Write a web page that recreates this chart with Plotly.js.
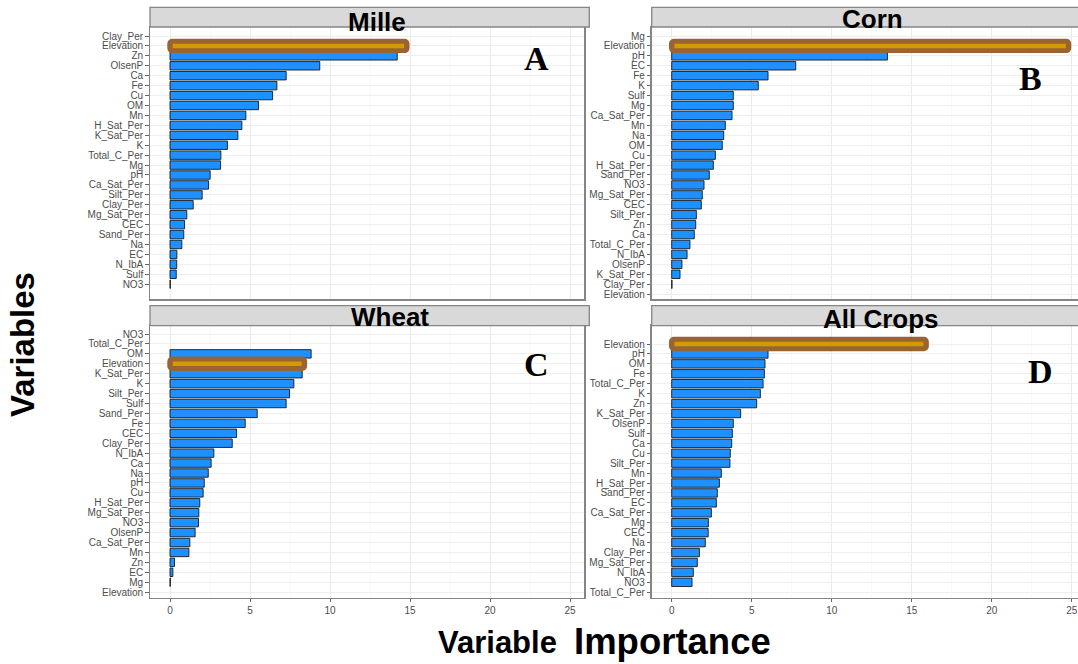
<!DOCTYPE html>
<html>
<head>
<meta charset="utf-8">
<script src="https://cdn.plot.ly/plotly-3.0.1.min.js"></script>
<style>html,body{margin:0;padding:0;background:#fff;}#chart{width:1078px;height:664px;}</style>
</head>
<body>
<div id="chart"></div>
<script>
// ---------- DATA ----------
const panelTitles = ['Mille', 'Corn', 'Wheat', 'All Crops'];
const panelLetters = ['A', 'B', 'C', 'D'];

const labelsA = ['Clay_Per','Elevation','Zn','OlsenP','Ca','Fe','Cu','OM','Mn','H_Sat_Per','K_Sat_Per','K','Total_C_Per','Mg','pH','Ca_Sat_Per','Silt_Per','Clay_Per','Mg_Sat_Per','CEC','Sand_Per','Na','EC','N_IbA','Sulf','NO3'];
const valuesA = [null,null,14.2,9.36,7.26,6.68,6.41,5.53,4.74,4.49,4.24,3.59,3.18,3.16,2.51,2.41,2.01,1.45,1.05,0.91,0.86,0.74,0.43,0.42,0.39,0.02];

const labelsB = ['Mg','Elevation','pH','EC','Fe','K','Sulf','Mg','Ca_Sat_Per','Mn','Na','OM','Cu','H_Sat_Per','Sand_Per','NO3','Mg_Sat_Per','CEC','Silt_Per','Zn','Ca','Total_C_Per','N_IbA','OlsenP','K_Sat_Per','Clay_Per','Elevation'];
const valuesB = [null,null,13.48,7.75,6.02,5.41,3.85,3.85,3.77,3.35,3.25,3.16,2.73,2.6,2.35,2.02,1.91,1.85,1.54,1.5,1.41,1.14,0.96,0.64,0.52,0.02,null];

const labelsC = ['NO3','Total_C_Per','OM','Elevation','K_Sat_Per','K','Silt_Per','Sulf','Sand_Per','Fe','CEC','Clay_Per','N_IbA','Ca','Na','pH','Cu','H_Sat_Per','Mg_Sat_Per','NO3','OlsenP','Ca_Sat_Per','Mn','Zn','EC','Mg','Elevation'];
const valuesC = [null,null,8.82,null,8.26,7.74,7.47,7.26,5.45,4.7,4.16,3.89,2.74,2.57,2.39,2.14,2.07,1.86,1.8,1.78,1.57,1.24,1.18,0.28,0.18,0.02,null];

const labelsD = ['Elevation','pH','OM','Fe','Total_C_Per','K','Zn','K_Sat_Per','OlsenP','Sulf','Ca','Cu','Silt_Per','Mn','H_Sat_Per','Sand_Per','EC','Ca_Sat_Per','Mg','CEC','Na','Clay_Per','Mg_Sat_Per','N_IbA','NO3','Total_C_Per'];
const valuesD = [null,6.02,5.83,5.79,5.71,5.54,5.31,4.31,3.85,3.79,3.75,3.66,3.64,3.1,2.98,2.85,2.79,2.48,2.29,2.28,2.1,1.73,1.6,1.35,1.27,null];

const highlightVariable = 'Elevation';
const highlightValues = [14.8, 24.8, 8.4, 15.9];

const xTickVals = [0, 5, 10, 15, 20, 25];
const xTitleWords = ['Variable', 'Importance'];
const yTitle = 'Variables';

// ---------- LAYOUT HELPERS ----------
const W = 1078, H = 664;
const fx = v => v / W;
const fy = v => 1 - v / H;
const PAD = 0.17; // half-thickness of the highlight frame, in x units

const allLabels = [labelsA, labelsB, labelsC, labelsD];
const allValues = [valuesA, valuesB, valuesC, valuesD];

const geo = [
  {x0:150,   x1:584.3, y0:27,    y1:299.3, yr:[26.52,-0.906], xr:[-1.25,25.89], s0:7.3,   bottom:false},
  {x0:651.7, x1:1078,  y0:27,    y1:299.3, yr:[26.52,-0.906], xr:[-1.25,25.39], s0:7.3,   bottom:false},
  {x0:150,   x1:584.3, y0:325.7, y1:597.7, yr:[26.56,-0.836], xr:[-1.25,25.89], s0:305.7, bottom:true},
  {x0:651.7, x1:1078,  y0:325.7, y1:597.7, yr:[25.55,-1.843], xr:[-1.25,25.39], s0:305.7, bottom:true}
];
const titlePos = [[377,21.6],[872,19.2],[390,316.6],[881,319.2]];
const letterPos = [[536.5,58.5],[1030.3,78],[536.5,364.3],[1040.5,371.3]];

const tickFont = {family:'Liberation Sans, Arial, sans-serif', size:10, color:'#4D4D4D'};
const borderColor = '#858585';

const data = [];
const layout = {
  width: W, height: H,
  margin: {l:0, r:0, t:0, b:0},
  paper_bgcolor: '#fff',
  plot_bgcolor: '#fff',
  barmode: 'overlay',
  showlegend: false,
  font: {family:'Liberation Sans, Arial, sans-serif'},
  shapes: [],
  annotations: []
};

allLabels.forEach((labels, k) => {
  const g = geo[k];
  const sfx = k === 0 ? '' : String(k + 1);
  const ys = labels.map((_, i) => i);
  data.push({
    type:'bar', orientation:'h',
    x: allValues[k], y: ys,
    xaxis:'x'+sfx, yaxis:'y'+sfx,
    width: 0.85,
    marker:{color:'#1E90FF', line:{color:'#1a1a1a', width:0.9}},
    hoverinfo:'skip'
  });
  const hRow = labels.indexOf(highlightVariable);
  const hv = highlightValues[k];
  // brown frame
  data.push({
    type:'bar', orientation:'h',
    base: [-PAD], x: [hv + 2*PAD], y: [hRow],
    xaxis:'x'+sfx, yaxis:'y'+sfx,
    width: 1.45,
    marker:{color:'#9A6432', line:{width:0}, cornerradius:5},
    hoverinfo:'skip'
  });
  // gold inner line
  data.push({
    type:'bar', orientation:'h',
    base: [PAD], x: [hv - 2*PAD], y: [hRow],
    xaxis:'x'+sfx, yaxis:'y'+sfx,
    width: 0.46,
    marker:{color:'#D29B00', line:{width:0}},
    hoverinfo:'skip'
  });

  layout['xaxis'+sfx] = {
    domain:[fx(g.x0), fx(g.x1)],
    anchor:'y'+sfx,
    range:g.xr,
    tickvals:xTickVals,
    showticklabels:g.bottom,
    ticks: g.bottom ? 'outside' : '',
    ticklen:3, tickcolor:'#666', tickwidth:1,
    tickfont:tickFont,
    showgrid:true, gridcolor:'#EBEBEB', gridwidth:1,
    minor:{dtick:2.5, tick0:0, showgrid:true, gridcolor:'#F5F5F5', gridwidth:0.6},
    zeroline:false,
    showline:true, mirror:true, linecolor:borderColor, linewidth:1.3
  };
  layout['yaxis'+sfx] = {
    domain:[fy(g.y1), fy(g.y0)],
    anchor:'x'+sfx,
    range:g.yr,
    tickmode:'array', tickvals:ys, ticktext:labels,
    ticks:'outside', ticklen:3.5, tickcolor:'#666', tickwidth:1,
    tickfont:tickFont,
    showgrid:true, gridcolor:'#EEEEEE', gridwidth:1,
    zeroline:false,
    showline:true, mirror:true, linecolor:borderColor, linewidth:1.3
  };

  layout.shapes.push({
    type:'rect', xref:'paper', yref:'paper',
    x0:fx(g.x0), x1:fx(Math.min(g.x1 + 5, W + 5)), y0:fy(g.y0), y1:fy(g.s0),
    fillcolor:'#D9D9D9', line:{color:borderColor, width:1.3}, layer:'above'
  });
  layout.annotations.push({
    xref:'paper', yref:'paper', x:fx(titlePos[k][0]), y:fy(titlePos[k][1]),
    xanchor:'center', yanchor:'middle', showarrow:false,
    text:'<b>'+panelTitles[k]+'</b>',
    font:{family:'Liberation Sans, Arial, sans-serif', size:26, color:'#000'}
  });
  layout.annotations.push({
    xref:'paper', yref:'paper', x:fx(letterPos[k][0]), y:fy(letterPos[k][1]),
    xanchor:'center', yanchor:'middle', showarrow:false,
    text:'<b>'+panelLetters[k]+'</b>',
    font:{family:'Liberation Serif, Times New Roman, serif', size:34, color:'#000'}
  });
});

layout.annotations.push({
  xref:'paper', yref:'paper', x:fx(22), y:fy(345), textangle:-90,
  xanchor:'center', yanchor:'middle', showarrow:false,
  text:'<b>'+yTitle+'</b>',
  font:{family:'Liberation Sans, Arial, sans-serif', size:33, color:'#000'}
});
layout.annotations.push({
  xref:'paper', yref:'paper', x:fx(497.5), y:fy(642.8),
  xanchor:'center', yanchor:'middle', showarrow:false,
  text:'<b>'+xTitleWords[0]+'</b>',
  font:{family:'Liberation Sans, Arial, sans-serif', size:31, color:'#000'}
});
layout.annotations.push({
  xref:'paper', yref:'paper', x:fx(672), y:fy(641),
  xanchor:'center', yanchor:'middle', showarrow:false,
  text:'<b>'+xTitleWords[1]+'</b>',
  font:{family:'Liberation Sans, Arial, sans-serif', size:36.5, color:'#000'}
});

Plotly.newPlot('chart', data, layout, {staticPlot:true, displayModeBar:false});
</script>
</body>
</html>
